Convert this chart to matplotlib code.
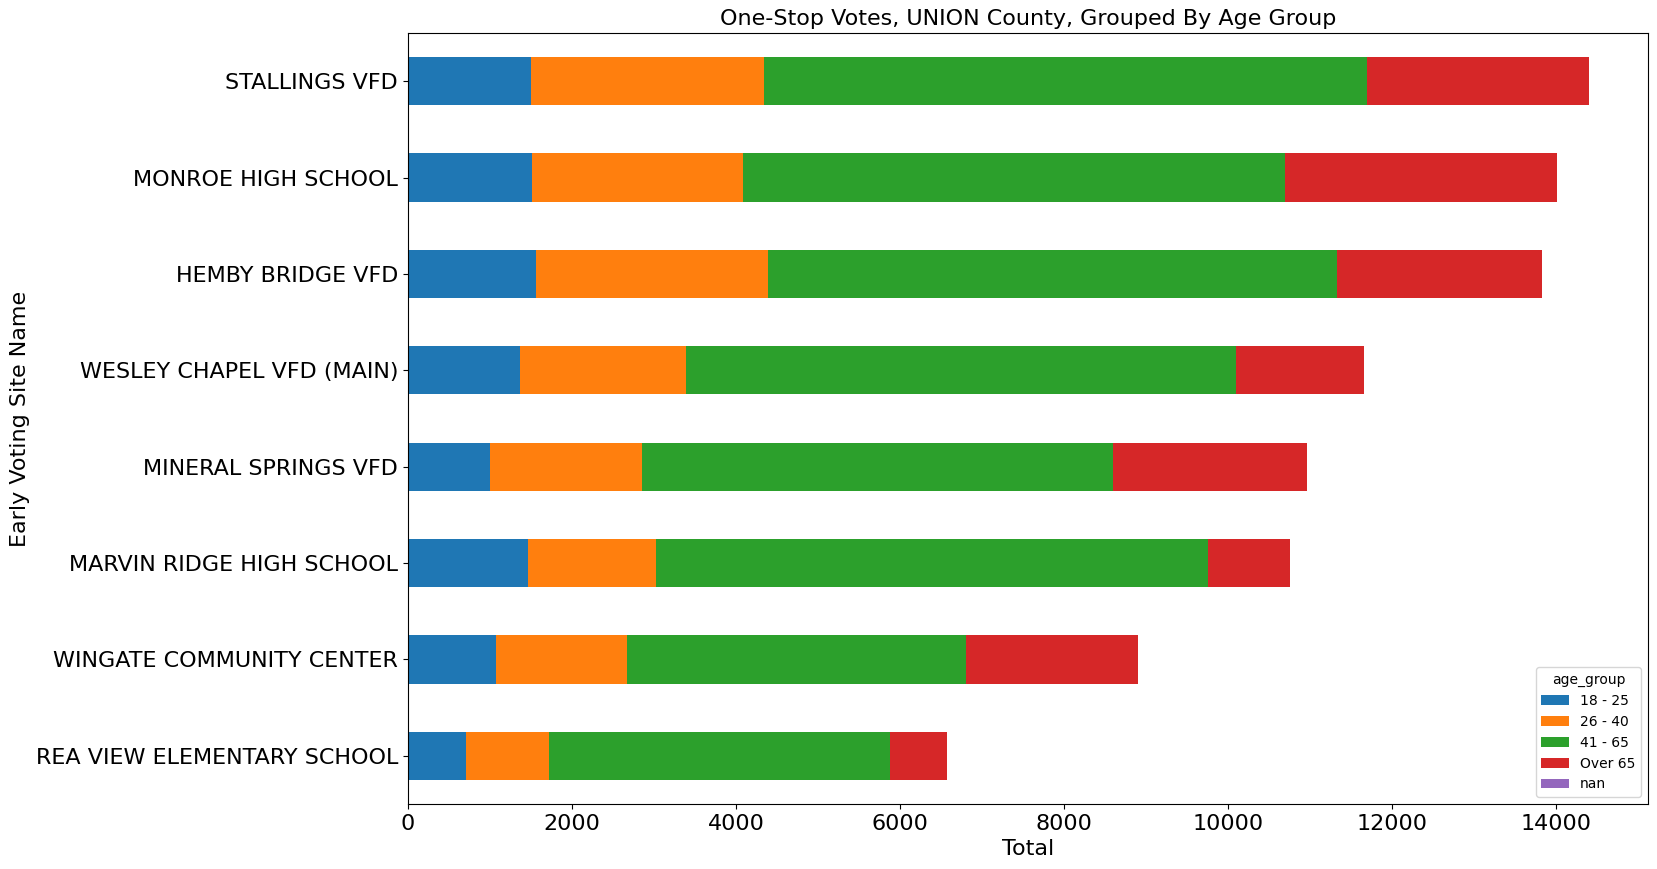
import numpy as np
import matplotlib
matplotlib.use("Agg")
import matplotlib.pyplot as plt

sites = ["REA VIEW ELEMENTARY SCHOOL", "WINGATE COMMUNITY CENTER", "MARVIN RIDGE HIGH SCHOOL",
         "MINERAL SPRINGS VFD", "WESLEY CHAPEL VFD (MAIN)", "HEMBY BRIDGE VFD",
         "MONROE HIGH SCHOOL", "STALLINGS VFD"]
age_groups = ["18 - 25", "26 - 40", "41 - 65", "Over 65", "nan"]

age_18_25 = [707, 1073, 1464, 1000, 1366, 1561, 1512, 1500]
age_26_40 = [1013, 1598, 1561, 1854, 2025, 2830, 2574, 2842]
age_41_65 = [4159, 4135, 6733, 5745, 6708, 6940, 6611, 7355]
age_over_65 = [695, 2098, 1000, 2366, 1561, 2500, 3317, 2708]
age_nan = [0, 0, 0, 0, 0, 0, 0, 0]

series = [age_18_25, age_26_40, age_41_65, age_over_65, age_nan]
colors = ["#1f77b4", "#ff7f0e", "#2ca02c", "#d62728", "#9467bd"]

fig, ax = plt.subplots(figsize=(16.57, 8.69), dpi=100)
fig.subplots_adjust(left=0.2462, right=0.9946, top=0.962, bottom=0.0748)

y = np.arange(len(sites))
left = np.zeros(len(sites))
for name, vals, c in zip(age_groups, series, colors):
    vals = np.array(vals, dtype=float)
    ax.barh(y, vals, left=left, height=0.5, color=c, label=name)
    left += vals

ax.set_yticks(y)
ax.set_yticklabels(sites)
ax.set_ylim(-0.5, len(sites) - 0.5)
# same 5% headroom pandas leaves on the right
ax.set_xlim(0, left.max() * 1.05)
ax.tick_params(axis="both", labelsize=16)
ax.set_xlabel("Total", fontsize=16)
ax.set_ylabel("Early Voting Site Name", fontsize=16)
ax.set_title("One-Stop Votes, UNION County, Grouped By Age Group", fontsize=16)
ax.legend(title="age_group", loc="lower right")

plt.savefig("out.png", dpi=100)
